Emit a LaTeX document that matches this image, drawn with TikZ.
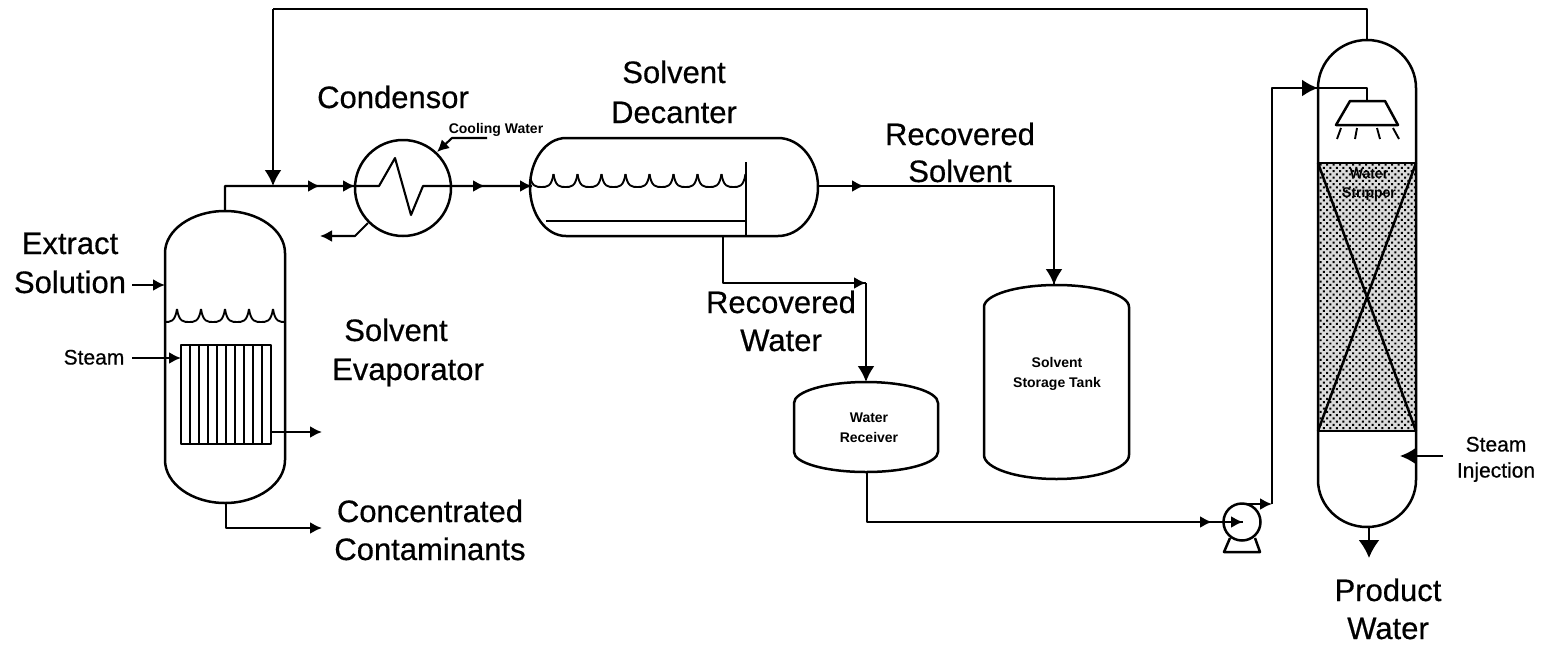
\documentclass[tikz,border=0pt]{standalone}
\usepackage{fontspec}
\setmainfont{Liberation Sans}
\newfontfamily\heavyfont[FakeBold=0.5]{Liberation Sans}
\usetikzlibrary{arrows.meta,patterns.meta}
\tikzset{
  pipe/.style={draw=black,line width=2.1pt,line join=round},
  shell/.style={draw=black,line width=2.5pt,line join=round},
  thin part/.style={draw=black,line width=1.9pt},
  smallhead/.style={pipe,-{Latex[length=12pt,width=12pt]}},
  bighead/.style={pipe,-{Latex[length=16pt,width=17pt]}},
  big/.style={font=\fontsize{31}{31}\selectfont\heavyfont,inner sep=0pt,text=black,text height=22pt,text depth=0pt},
  mid/.style={font=\fontsize{21}{21}\selectfont\heavyfont,inner sep=0pt,text=black,text height=15pt,text depth=0pt},
  tiny/.style={font=\fontsize{14}{14}\selectfont\bfseries,inner sep=0pt,text=black,text height=10pt,text depth=0pt},
}
% vertical vessel: left, top, right, bottom, straight top, straight bottom
\newcommand{\vvessel}[6]{%
  \pgfmathsetmacro{\cx}{(#1+#3)/2}%
  \pgfmathsetmacro{\kx}{0.276*(#3-#1)}%
  \pgfmathsetmacro{\kta}{0.55*(#5-#2)}%
  \pgfmathsetmacro{\ktb}{0.55*(#4-#6)}%
  \draw[shell] (#1,#5) .. controls (#1,#5-\kta) and (\cx-\kx,#2) .. (\cx,#2)
    .. controls (\cx+\kx,#2) and (#3,#5-\kta) .. (#3,#5) -- (#3,#6)
    .. controls (#3,#6+\ktb) and (\cx+\kx,#4) .. (\cx,#4)
    .. controls (\cx-\kx,#4) and (#1,#6+\ktb) .. (#1,#6) -- cycle;}
% scallops: first cusp x, spacing, count, cusp y, valley y
\newcommand{\scallops}[5]{%
  \foreach \i in {1,...,#3}{%
    \pgfmathsetmacro{\xa}{#1+(\i-1)*#2}%
    \pgfmathsetmacro{\xb}{\xa+#2}%
    \draw[thin part] (\xa,#4) .. controls (\xa+0.08*#2,#5) and (\xa+0.28*#2,#5) .. (\xa+0.5*#2,#5)
      .. controls (\xa+0.72*#2,#5) and (\xb-0.08*#2,#5) .. (\xb,#4);}}
\begin{document}
\begin{tikzpicture}[x=1pt,y=-1pt]
\useasboundingbox (0,0) rectangle (1543,646);
% ---- connection points
\coordinate (ev top) at (225,211);
\coordinate (ev knee) at (225,186);
\coordinate (junction) at (273,186);
\coordinate (m1) at (320,186);
\coordinate (cd in) at (355,186);
\coordinate (cd a) at (379,186);
\coordinate (cd b) at (395,158);
\coordinate (cd c) at (411,215);
\coordinate (cd d) at (423,186);
\coordinate (cd out) at (451,186);
\coordinate (m2) at (485,186);
\coordinate (dc in) at (532,186);
\coordinate (dc out) at (818,186);
\coordinate (m3) at (864,186);
\coordinate (rs knee) at (1054,186);
\coordinate (tk top) at (1054,285);
\coordinate (dc bot) at (723,236);
\coordinate (rw knee) at (723,283);
\coordinate (rw knee2) at (866,283);
\coordinate (wr top) at (866,382);
\coordinate (wr bot) at (867,472);
\coordinate (wr knee) at (867,522);
\coordinate (m5) at (1212,522);
\coordinate (pu in) at (1243,522);
\coordinate (pu top) at (1242,504);
\coordinate (pu knee) at (1272,504);
\coordinate (up knee) at (1272,88);
\coordinate (co in) at (1318,88);
\coordinate (sp knee) at (1367,88);
\coordinate (sp top) at (1367,101);
\coordinate (co top) at (1367,40);
\coordinate (ov knee) at (1367,9);
\coordinate (ov knee2) at (273,9);
\coordinate (co bot) at (1369,527);
\coordinate (pw tip) at (1369,558);
\coordinate (si start) at (1443,456);
\coordinate (si tip) at (1400,456);
% ---- packing (under the shell)
\fill[black!14] (1318,163) rectangle (1416,431);
\fill[pattern={Dots[angle=45,distance=4.6pt,radius=1.4pt]},pattern color=black] (1318,163) rectangle (1416,431);
% ---- vessels
\vvessel{165}{211}{285}{503}{253}{460}
\vvessel{984}{285}{1129}{479}{307}{455}
\vvessel{794}{382}{938}{472}{403}{452}
\vvessel{1318}{40}{1416}{527}{88}{480}
% decanter
\draw[shell] (566,138) -- (778,138) .. controls (800,138) and (818,160) .. (818,187)
  .. controls (818,214) and (800,236) .. (778,236) -- (566,236)
  .. controls (546,236) and (530,214) .. (530,187) .. controls (530,160) and (546,138) .. (566,138) -- cycle;
\draw[shell] (746,162) -- (746,236);
\draw[shell] (546,221) -- (746,221);
\begin{scope}
\clip (531,160) rectangle (746,195);
\scallops{529.5}{24}{9}{174}{187}
\end{scope}
% condenser
\node[circle,shell,minimum size=96pt,inner sep=0pt] (condenser) at (403,188) {};
% evaporator internals
\begin{scope}
\clip (165,300) rectangle (285,330);
\scallops{153}{24}{6}{309}{322}
\end{scope}
\draw[pipe] (181,345) rectangle (271,444);
\foreach \x in {190,199,208,217,226,235,244,253,262}{\draw[thin part] (\x,345) -- (\x,444);}
% packing cross and bounds
\draw[shell] (1318,163) -- (1416,163);
\draw[shell] (1318,431) -- (1416,431);
\draw[shell] (1318,163) -- (1416,431);
\draw[shell] (1416,163) -- (1318,431);
% sprayer
\draw[shell] (1350,101) -- (1385,101) -- (1398,125) -- (1336,125) -- cycle;
\draw[thin part] (1341,128) -- (1337,139);
\draw[thin part] (1357,128) -- (1355,139);
\draw[thin part] (1377,128) -- (1380,139);
\draw[thin part] (1393,128) -- (1399,139);
% pump
\node[circle,shell,minimum size=37pt,inner sep=0pt] (pump) at (1242,522) {};
\draw[shell] (1230,538) -- (1224,552) -- (1260,552) -- (1255,538);
% ---- pipes
\draw[pipe] (ev top) -- (ev knee) -- (cd in) -- (cd a) -- (cd b) -- (cd c) -- (cd d) -- (dc in);
\draw[smallhead] (junction) -- (m1);
\draw[smallhead] (m1) -- (cd in);
\draw[smallhead] (cd out) -- (m2);
\draw[smallhead] (m2) -- (dc in);
\draw[pipe] (dc out) -- (rs knee) -- (tk top);
\draw[smallhead] (dc out) -- (m3);
\draw[bighead] (rs knee) -- (tk top);
\draw[pipe] (dc bot) -- (rw knee) -- (rw knee2);
\draw[smallhead] (rw knee) -- (rw knee2);
\draw[bighead] (rw knee2) -- (wr top);
\draw[pipe] (wr bot) -- (wr knee) -- (pu in);
\draw[smallhead] (wr knee) -- (m5);
\draw[smallhead] (m5) -- (pu in);
\draw[smallhead] (pu top) -- (pu knee);
\draw[pipe] (pu knee) -- (up knee) -- (sp knee) -- (sp top);
\draw[bighead] (up knee) -- (co in);
\draw[pipe] (co top) -- (ov knee) -- (ov knee2);
\draw[bighead] (ov knee2) -- (junction);
\draw[pipe,-{Latex[length=18pt,width=21pt]}] (co bot) -- (pw tip);
\draw[bighead] (si start) -- (si tip);
% ---- small connections
\coordinate (ex start) at (132,285);
\coordinate (ex tip) at (165,285);
\draw[smallhead] (ex start) -- (ex tip);
\coordinate (st start) at (132,358);
\coordinate (st tip) at (181,358);
\draw[smallhead] (st start) -- (st tip);
\coordinate (tb out) at (271,432);
\coordinate (tb tip) at (322,432);
\draw[smallhead] (tb out) -- (tb tip);
\coordinate (ev bot) at (226,503);
\coordinate (ev k2) at (226,528);
\coordinate (cc tip) at (322,528);
\draw[smallhead] (ev bot) -- (ev k2) -- (cc tip);
\coordinate (cw out) at (368,223);
\coordinate (cw k) at (355,236);
\coordinate (cw tip) at (320,236);
\draw[smallhead] (cw out) -- (cw k) -- (cw tip);
\coordinate (cw s) at (487,138);
\coordinate (cw k2) at (452,138);
\coordinate (cw t2) at (437,152);
\draw[smallhead] (cw s) -- (cw k2) -- (cw t2);
% ---- labels
\node[big] (l1) at (674,72) {Solvent};
\node[big] (l2) at (674,112) {Decanter};
\node[big] (l3) at (393,97) {Condensor};
\node[big] (l4) at (960,134) {Recovered};
\node[big] (l5) at (960,171) {Solvent};
\node[big] (l6) at (70,243) {Extract};
\node[big] (l7) at (70,282) {Solution};
\node[big] (l8) at (396,330) {Solvent};
\node[big] (l9) at (408,369) {Evaporator};
\node[big] (l10) at (430,511) {Concentrated};
\node[big] (l11) at (430,549) {Contaminants};
\node[big] (l12) at (781,302) {Recovered};
\node[big] (l13) at (781,340) {Water};
\node[big] (l14) at (1388,590) {Product};
\node[big] (l15) at (1388,628) {Water};
\node[mid] (l16) at (94,357) {Steam};
\node[mid] (l17) at (1496,444) {Steam};
\node[mid] (l18) at (1496,470) {Injection};
\node[tiny] (l19) at (496,128) {Cooling Water};
\node[tiny] (l20) at (1057,362) {Solvent};
\node[tiny] (l21) at (1057,382) {Storage Tank};
\node[tiny] (l22) at (869,417) {Water};
\node[tiny] (l23) at (869,437) {Receiver};
\node[tiny] (l24) at (1369,173) {Water};
\node[tiny] (l25) at (1369,192) {Stripper};
\end{tikzpicture}
\end{document}
